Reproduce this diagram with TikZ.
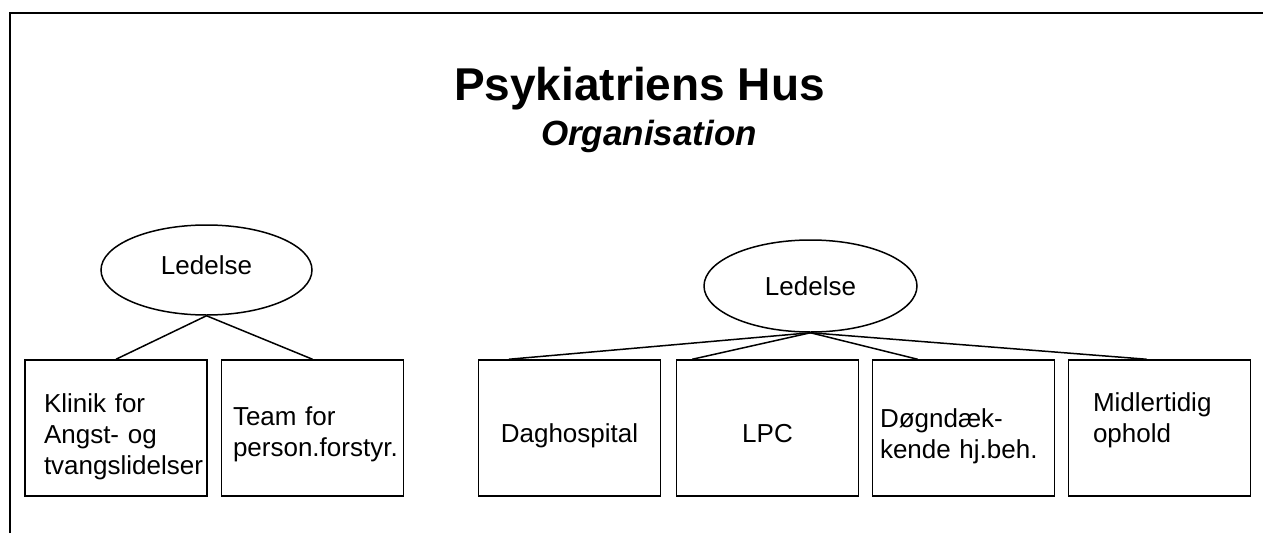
\documentclass[tikz,border=0pt]{standalone}
\usepackage{fontspec}
\setmainfont{Liberation Sans}
\usetikzlibrary{shapes.geometric,calc}
\tikzset{
  lead/.style={draw, ellipse, line width=1.5pt, inner sep=0pt,
    font=\fontsize{26}{31}\selectfont},
  unit/.style={draw, rectangle, line width=1.5pt, inner sep=0pt,
    minimum width=182pt, minimum height=136pt,
    font=\fontsize{26}{31}\selectfont},
  link/.style={line width=1.5pt}
}

\begin{document}
\begin{tikzpicture}[x=1pt,y=-1pt]
\useasboundingbox (0,0) rectangle (1263,533);
\draw [line width=2pt] (9.5,533) -- (9.5,13) -- (1263,13);
\node [anchor=base, font=\fontsize{46}{50}\bfseries] (title) at (639.5,100) {Psykiatriens Hus};
\node [anchor=base, font=\fontsize{35}{40}\bfseries\itshape] (subtitle) at (649,145) {Organisation};

\node [lead, minimum width=211pt, minimum height=90pt, text depth=9pt] (lead1) at (206.5,270) {Ledelse};
\node [unit, align=left, text width=144pt, text height=35.5pt] (klinik) at (116,428) {Klinik for\\Angst- og\\tvangslidelser};
\node [unit, align=left, text width=159pt, text height=30.5pt] (team) at (312.5,428) {Team for\\person.forstyr.};
\draw [link] (lead1.south) -- (klinik.north);
\draw [link] (lead1.south) -- (team.north);

\node [lead, minimum width=213pt, minimum height=92pt] (lead2) at (810.5,286) {Ledelse};
\node [unit, text height=33.5pt, text depth=5.5pt] (dag) at (569.5,428) {Daghospital};
\node [unit, text height=28pt, text depth=0pt] (lpc) at (767.5,428) {LPC};
\node [unit, align=left, text width=167pt, text height=34.5pt] (doegn) at (963.5,428) {Døgndæk-\\kende hj.beh.};
\node [unit, align=left, text width=133pt, text depth=51pt] (midl) at (1159.5,428) {Midlertidig\\ophold};
\draw [link] (lead2.south) -- ($(dag.north west)!0.17!(dag.north east)$);
\draw [link] (lead2.south) -- ($(lpc.north west)!0.09!(lpc.north east)$);
\draw [link] (lead2.south) -- ($(doegn.north west)!0.25!(doegn.north east)$);
\draw [link] (lead2.south) -- ($(midl.north west)!0.43!(midl.north east)$);
\end{tikzpicture}
\end{document}
